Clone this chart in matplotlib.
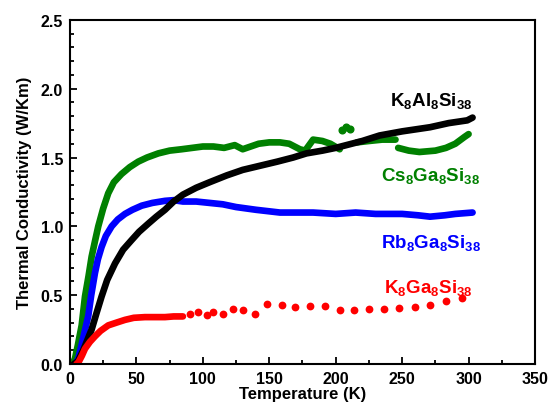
import matplotlib
matplotlib.use("Agg")
import matplotlib.pyplot as plt
from matplotlib.ticker import MultipleLocator

plt.rcParams['font.family'] = ['Liberation Sans', 'DejaVu Sans']
plt.rcParams['font.weight'] = 'bold'
plt.rcParams['mathtext.fontset'] = 'custom'
plt.rcParams['mathtext.rm'] = 'Liberation Sans:bold'
plt.rcParams['mathtext.bf'] = 'Liberation Sans:bold'
plt.rcParams['mathtext.it'] = 'Liberation Sans:bold'

# K8Al8Si38 (black)
k_al_T = [3, 6, 10, 16.3, 20, 23.8, 28, 33.9, 40, 46.4, 52, 59, 65, 71.5, 78, 85, 95, 105, 118, 130,
          143, 156, 168, 178, 190, 200, 208, 220, 233, 250, 271, 285, 299, 303]
k_al_k = [0, 0.02, 0.10, 0.25, 0.37, 0.49, 0.61, 0.73, 0.83, 0.90, 0.96, 1.02, 1.07, 1.12, 1.18, 1.23, 1.28,
          1.32, 1.37, 1.41, 1.44, 1.47, 1.50, 1.53, 1.55, 1.57, 1.59, 1.62, 1.66, 1.69, 1.72, 1.75, 1.77, 1.79]

# Cs8Ga8Si38 (green), segments
cs_T1 = [2, 3.8, 6, 8.8, 11.3, 14, 16.3, 19, 21.3, 25, 28.8, 33, 38.8, 45, 51.4, 58, 66.5, 75, 84, 92, 100,
         108, 116, 124, 130, 136, 142, 150, 158, 165, 173, 177, 183, 190, 196, 203]
cs_k1 = [0, 0.04, 0.14, 0.28, 0.49, 0.64, 0.78, 0.90, 1.00, 1.13, 1.24, 1.32, 1.38, 1.43, 1.47, 1.50, 1.53,
         1.55, 1.56, 1.57, 1.58, 1.58, 1.57, 1.59, 1.56, 1.58, 1.60, 1.61, 1.61, 1.60, 1.56, 1.55, 1.63,
         1.62, 1.60, 1.56]
cs_T_iso = [205, 208, 211]
cs_k_iso = [1.70, 1.72, 1.71]
cs_T2 = [216, 225, 235, 245]
cs_k2 = [1.61, 1.62, 1.63, 1.63]
cs_T3 = [247, 255, 263, 275, 283, 290, 297, 300]
cs_k3 = [1.57, 1.55, 1.54, 1.55, 1.57, 1.60, 1.65, 1.67]

# Rb8Ga8Si38 (blue)
rb_T = [4, 6.3, 10, 13.8, 16, 18.8, 21, 23.8, 27, 31.4, 36, 41.4, 47, 54, 62, 71.5, 78, 85, 95, 105,
        115, 125, 140, 158, 170, 183, 200, 215, 230, 250, 262, 271, 282, 290, 303]
rb_k = [0, 0.04, 0.19, 0.35, 0.50, 0.66, 0.76, 0.85, 0.93, 1.00, 1.05, 1.09, 1.12, 1.15, 1.17, 1.185,
        1.19, 1.18, 1.18, 1.17, 1.16, 1.14, 1.12, 1.10, 1.10, 1.10, 1.09, 1.10, 1.09, 1.09, 1.08, 1.07,
        1.08, 1.09, 1.10]

# K8Ga8Si38 (red): dense low-T part and sparse dots
kga_T = [5, 6.3, 9, 11.3, 15, 18.8, 23, 28.8, 35, 41.4, 48, 56.4, 64, 71.5, 78, 85]
kga_k = [0, 0.01, 0.06, 0.11, 0.16, 0.20, 0.24, 0.28, 0.30, 0.32, 0.335, 0.34, 0.34, 0.34, 0.345, 0.345]
kga_dot_T = [90.3, 96.5, 102.8, 107.8, 114.9, 122.9, 130.4, 139.2, 148, 159.3, 169.3, 180.6, 191.9,
             203.2, 213.7, 225.2, 236.5, 247.8, 259.6, 270.9, 282.7, 294.7]
kga_dot_k = [0.36, 0.377, 0.354, 0.377, 0.366, 0.397, 0.392, 0.366, 0.438, 0.426, 0.412, 0.421, 0.421,
             0.392, 0.392, 0.402, 0.402, 0.409, 0.416, 0.428, 0.457, 0.481]

labels = [r'$\mathbf{K_8Al_8Si_{38}}$', r'$\mathbf{Cs_8Ga_8Si_{38}}$',
          r'$\mathbf{Rb_8Ga_8Si_{38}}$', r'$\mathbf{K_8Ga_8Si_{38}}$']
label_pos_T = [271.5, 271.5, 271.5, 269.5]
label_pos_k = [1.915, 1.37, 0.885, 0.56]
colors = ['black', 'green', 'blue', 'red']

fig = plt.figure(figsize=(5.51, 4.10), dpi=100)
ax = fig.add_axes([0.127, 0.110, 0.844, 0.839])

lw = 4.8
ax.plot(cs_T1, cs_k1, color='green', lw=lw, solid_capstyle='round', solid_joinstyle='round')
ax.plot(cs_T2, cs_k2, color='green', lw=lw, solid_capstyle='round', solid_joinstyle='round')
ax.plot(cs_T3, cs_k3, color='green', lw=lw, solid_capstyle='round', solid_joinstyle='round')
ax.plot(cs_T_iso, cs_k_iso, 'o', color='green', ms=4.8)
ax.plot(rb_T, rb_k, color='blue', lw=lw, solid_capstyle='round', solid_joinstyle='round')
ax.plot(k_al_T, k_al_k, color='black', lw=lw, solid_capstyle='round', solid_joinstyle='round')
ax.plot(kga_T, kga_k, color='red', lw=lw, solid_capstyle='round', solid_joinstyle='round')
ax.plot(kga_dot_T, kga_dot_k, 'o', color='red', ms=5.6, mew=0)

for lab, t, k, c in zip(labels, label_pos_T, label_pos_k, colors):
    ax.text(t, k, lab, color=c, fontsize=13.5, ha='center', va='center')

ax.set_xlim(0, 350)
ax.set_ylim(0, 2.5)
ax.xaxis.set_major_locator(MultipleLocator(50))
ax.xaxis.set_minor_locator(MultipleLocator(25))
ax.yaxis.set_major_locator(MultipleLocator(0.5))
ax.yaxis.set_minor_locator(MultipleLocator(0.1))
ax.yaxis.set_major_formatter(matplotlib.ticker.FormatStrFormatter('%.1f'))
ax.tick_params(which='both', direction='in', top=False, right=False, width=1.3)
ax.tick_params(which='major', length=5, labelsize=11.5, pad=5)
ax.tick_params(which='minor', length=3)
for s in ax.spines.values():
    s.set_linewidth(1.5)
for lab in ax.get_xticklabels() + ax.get_yticklabels():
    lab.set_fontweight('bold')

ax.set_xlabel('Temperature (K)', fontsize=12, fontweight='bold', labelpad=0)
ax.set_ylabel('Thermal Conductivity (W/Km)', fontsize=12, fontweight='bold', labelpad=6)

fig.savefig('out.png', dpi=100)
